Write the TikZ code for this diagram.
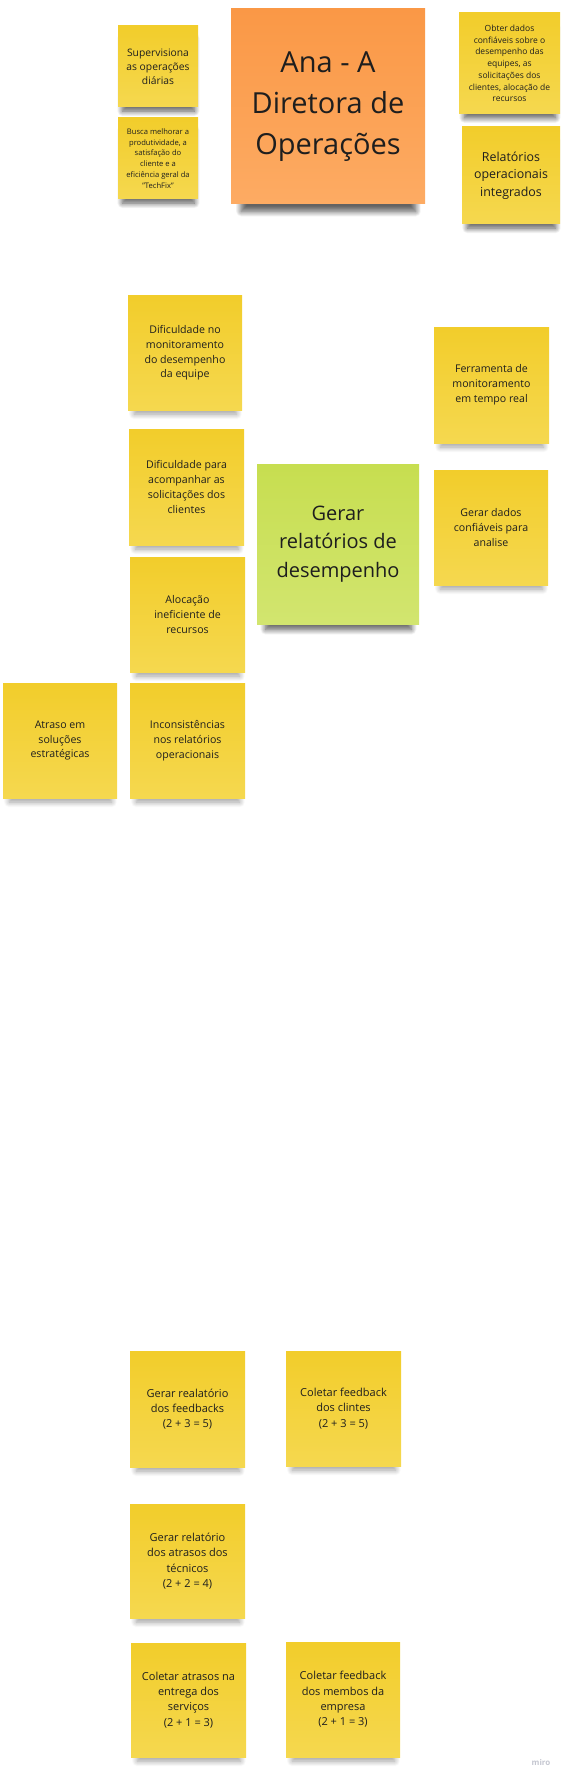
\documentclass[tikz,border=0pt]{standalone}
\usepackage{fontspec}
\setmainfont{Open Sans}
\usetikzlibrary{shadows.blur}
\definecolor{noteY}{HTML}{F2CD2B}
\definecolor{noteYlt}{HTML}{F5D84F}
\definecolor{noteO}{HTML}{FA9846}
\definecolor{noteOlt}{HTML}{FDAB63}
\definecolor{noteG}{HTML}{C7DE50}
\definecolor{noteGlt}{HTML}{D2E56F}
\definecolor{ink}{HTML}{1E1E1E}
\definecolor{mirogray}{HTML}{C4C6D0}
\newcommand{\fsz}[2]{\fontsize{#1}{#2}\selectfont}

\begin{document}
\begin{tikzpicture}[x=1pt,y=-1pt,
  shadowed/.style={blur shadow={shadow xshift=0.5pt, shadow yshift=#1, shadow scale=0.9,
      shadow blur radius=6pt, shadow blur steps=12, shadow opacity=38}},
  shadowed/.default=-11pt,
  note/.style={inner sep=0pt, align=center, text=ink,
    top color=noteY, bottom color=noteYlt, shadowed},
  sq/.style 2 args={minimum width=#1pt, minimum height=#2pt},
  orangenote/.style={note, top color=noteO, bottom color=noteOlt},
  greennote/.style={note, top color=noteG, bottom color=noteGlt}]
\useasboundingbox (0,0) rectangle (562,1776);

% persona
\begin{scope}
\draw(158,66.5) node[note, shadowed=-9pt, sq={80}{81}, font=\fsz{10.3}{14}] (superv) {Supervisiona\\as operações\\diárias};
\draw(158,158.5) node[note, shadowed=-9pt, sq={80}{81}, font=\fsz{7.6}{10.7}] (busca) {Busca melhorar a\\produtividade, a\\satisfação do\\cliente e a\\eficiência geral da\\"TechFix"};
\draw(328,106.5) node[orangenote, shadowed=-19pt, sq={194}{195}, font=\fsz{29}{41}] (ana) {Ana - A\\Diretora de\\Operações};
\draw(509.5,63.5) node[note, shadowed=-10pt, sq={101}{101}, font=\fsz{8.5}{11.7}] (obter) {Obter dados\\confiáveis sobre o\\desempenho das\\equipes, as\\solicitações dos\\clientes, alocação de\\recursos};
\draw(511,175.5) node[note, shadowed=-10pt, sq={98}{97}, font=\fsz{12.4}{17.5}] (relat) {Relatórios\\operacionais\\integrados};
\end{scope}

% problemas
\begin{scope}[font=\fsz{10.6}{14.8}]
\draw(185,353) node[note, sq={114}{114}] (dific1) {Dificuldade no\\monitoramento\\do desempenho\\da equipe};
\draw(186.5,487) node[note, sq={115}{116}] (dific2) {Dificuldade para\\acompanhar as\\solicitações dos\\clientes};
\draw(187.5,614.5) node[note, sq={115}{115}] (aloc) {Alocação\\ineficiente de\\recursos};
\draw(60,740.5) node[note, sq={114}{115}] (atraso) {Atraso em\\soluções\\estratégicas};
\draw(187.5,740.5) node[note, sq={115}{115}] (incons) {Inconsistências\\nos relatórios\\operacionais};
\draw(338,544) node[greennote, shadowed=-15pt, sq={162}{160}, font=\fsz{20}{28.7}] (gerar) {Gerar\\relatórios de\\desempenho};
\draw(491.5,385) node[note, sq={115}{116}] (ferram) {Ferramenta de\\monitoramento\\em tempo real};
\draw(491,527.5) node[note, sq={114}{115}] (dados) {Gerar dados\\confiáveis para\\analise};
\end{scope}

% prioridades
\begin{scope}[font=\fsz{11}{15.3}]
\draw(187.5,1409) node[note, sq={115}{116}] (feedrel) {Gerar realatório\\dos feedbacks\\(2 + 3 = 5)};
\draw(343.5,1408.5) node[note, sq={115}{115}] (feedcli) {Coletar feedback\\dos clintes\\(2 + 3 = 5)};
\draw(187.5,1561) node[note, sq={115}{114}] (atrasorel) {Gerar relatório\\dos atrasos dos\\técnicos\\(2 + 2 = 4)};
\draw(188.5,1700) node[note, sq={115}{114}] (atrasocol) {Coletar atrasos na\\entrega dos\\serviços\\(2 + 1 = 3)};
\draw(343,1699.5) node[note, sq={114}{115}] (feedmem) {Coletar feedback\\dos membos da\\empresa\\(2 + 1 = 3)};
\end{scope}

\draw(541,1762) node[text=mirogray, font=\fsz{8}{9}\bfseries] (miro) {miro};
\end{tikzpicture}
\end{document}
